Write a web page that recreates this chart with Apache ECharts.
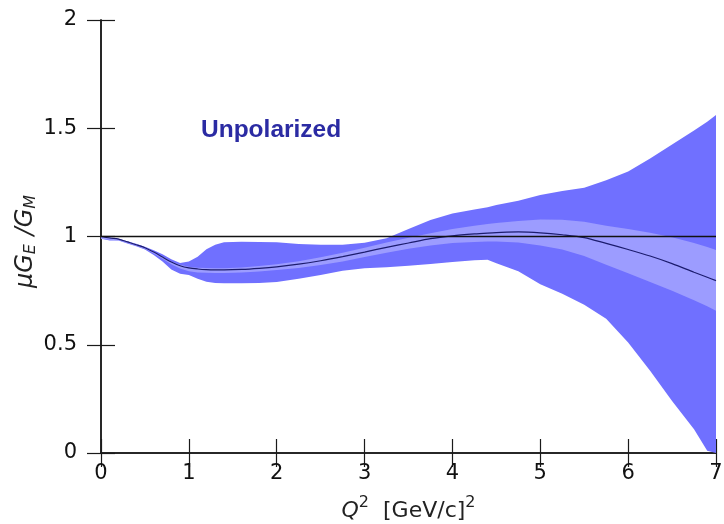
<!DOCTYPE html>
<html>
<head>
<meta charset="utf-8">
<script src="https://cdn.jsdelivr.net/npm/echarts@6/dist/echarts.min.js"></script>
<style>html,body{margin:0;padding:0;background:#fff}#c{width:724px;height:524px}</style>
</head>
<body>
<div id="c"></div>
<script>
// Q^2 sample points
var q2 = [0, 0.1, 0.2, 0.3, 0.4, 0.5, 0.6, 0.7, 0.8, 0.9, 1.0, 1.1, 1.2, 1.3, 1.4, 1.6, 1.8, 2.0, 2.25, 2.5, 2.75, 3.0, 3.25, 3.5, 3.75, 4.0, 4.25, 4.4, 4.5, 4.75, 5.0, 5.25, 5.5, 5.75, 6.0, 6.25, 6.5, 6.75, 6.9, 7.0];
// outer (wide) band
var outerUpper = [1.0, 0.995, 0.99, 0.978, 0.966, 0.953, 0.937, 0.918, 0.895, 0.878, 0.884, 0.906, 0.941, 0.962, 0.973, 0.976, 0.975, 0.973, 0.965, 0.962, 0.962, 0.971, 0.992, 1.035, 1.076, 1.106, 1.125, 1.135, 1.145, 1.165, 1.192, 1.21, 1.225, 1.26, 1.30, 1.36, 1.425, 1.49, 1.53, 1.561];
var outerLower = [0.99, 0.982, 0.982, 0.968, 0.955, 0.94, 0.915, 0.885, 0.848, 0.828, 0.822, 0.805, 0.791, 0.785, 0.784, 0.784, 0.785, 0.79, 0.805, 0.822, 0.842, 0.853, 0.858, 0.865, 0.873, 0.882, 0.89, 0.893, 0.877, 0.84, 0.78, 0.735, 0.685, 0.62, 0.51, 0.38, 0.24, 0.11, 0.01, 0.0];
// inner (narrow) band
var innerUpper = [1.0, 0.995, 0.99, 0.977, 0.964, 0.95, 0.93, 0.908, 0.885, 0.869, 0.86, 0.856, 0.854, 0.853, 0.853, 0.857, 0.864, 0.872, 0.886, 0.904, 0.925, 0.948, 0.972, 0.994, 1.015, 1.035, 1.05, 1.058, 1.062, 1.072, 1.078, 1.077, 1.068, 1.05, 1.035, 1.017, 0.997, 0.97, 0.952, 0.938];
var innerLower = [0.99, 0.985, 0.983, 0.97, 0.957, 0.943, 0.922, 0.897, 0.872, 0.852, 0.84, 0.834, 0.832, 0.831, 0.831, 0.834, 0.838, 0.845, 0.855, 0.868, 0.885, 0.905, 0.925, 0.943, 0.958, 0.97, 0.975, 0.977, 0.977, 0.972, 0.958, 0.94, 0.91, 0.87, 0.83, 0.79, 0.75, 0.705, 0.678, 0.657];
// central fit
var centralFit = [1.0, 0.993, 0.988, 0.975, 0.962, 0.948, 0.928, 0.905, 0.882, 0.865, 0.855, 0.85, 0.847, 0.846, 0.846, 0.848, 0.853, 0.86, 0.872, 0.888, 0.907, 0.928, 0.95, 0.97, 0.99, 1.003, 1.012, 1.016, 1.018, 1.021, 1.017, 1.008, 0.995, 0.968, 0.94, 0.91, 0.875, 0.835, 0.812, 0.796];
var unityLine = [[0, 1], [7, 1]];
var xTicks = [0, 1, 2, 3, 4, 5, 6, 7];
var yTicks = [0, 0.5, 1, 1.5, 2];

function bandSeries(upper, lower, color) {
  return {
    type: 'custom',
    silent: true,
    data: q2.map(function (x, i) { return [x, lower[i], upper[i]]; }),
    encode: { x: 0, y: [1, 2] },
    renderItem: function (params, api) {
      if (params.dataIndex !== 0) return null;
      var pts = [];
      for (var i = 0; i < q2.length; i++) pts.push(api.coord([q2[i], upper[i]]));
      for (var j = q2.length - 1; j >= 0; j--) pts.push(api.coord([q2[j], lower[j]]));
      return { type: 'polygon', shape: { points: pts }, style: { fill: color, stroke: null } };
    },
    z: 2
  };
}

var FONT = 'DejaVu Sans';
var chart = echarts.init(document.getElementById('c'), null, { renderer: 'canvas' });
var axisLineStyle = { color: '#1a1a1a', width: 1.5 };
chart.setOption({
  animation: false,
  backgroundColor: '#fff',
  grid: { left: 101, right: 8, top: 20, bottom: 71, containLabel: false, outerBoundsMode: 'none' },
  title: {
    text: 'Unpolarized', left: 196, top: 113,
    textStyle: { fontFamily: 'Liberation Sans', fontWeight: 'bold', fontSize: 24.5, color: '#2b2ba3' }
  },
  xAxis: [{
    type: 'value', min: 0, max: 7, interval: 1, position: 'bottom',
    axisLine: { show: true, lineStyle: axisLineStyle },
    axisTick: { show: true, inside: true, length: 14, lineStyle: { color: '#1a1a1a', width: 1.2 } },
    axisLabel: { margin: 10, fontFamily: FONT, fontSize: 21, color: '#111',
      formatter: function (v) { return xTicks.indexOf(v) >= 0 ? String(v) : ''; } },
    splitLine: { show: false },
    name: '{i|Q}{s|2}{t|  [GeV/c]}{s|2}', nameLocation: 'middle', nameGap: 42,
    nameTextStyle: { fontFamily: FONT, fontSize: 22, color: '#222',
      rich: {
        i: { fontFamily: FONT, fontSize: 22, fontStyle: 'italic', color: '#222', verticalAlign: 'bottom', lineHeight: 27 },
        t: { fontFamily: FONT, fontSize: 22, color: '#222', verticalAlign: 'bottom', lineHeight: 27 },
        s: { fontFamily: FONT, fontSize: 16, color: '#222', verticalAlign: 'top', lineHeight: 16 }
      } }
  }, {
    type: 'value', min: 0, max: 7, interval: 1, position: 'top',
    axisLine: { show: true, lineStyle: axisLineStyle },
    axisTick: { show: true, inside: true, length: 14, lineStyle: { color: '#1a1a1a', width: 1.2 } },
    axisLabel: { show: false }, splitLine: { show: false }
  }],
  yAxis: [{
    type: 'value', min: 0, max: 2, interval: 0.5, position: 'left',
    axisLine: { show: true, lineStyle: axisLineStyle },
    axisTick: { show: true, inside: true, length: 14, lineStyle: { color: '#1a1a1a', width: 1.2 } },
    axisLabel: { margin: 24, fontFamily: FONT, fontSize: 21, color: '#111',
      formatter: function (v) { return yTicks.indexOf(v) >= 0 ? String(v) : ''; } },
    splitLine: { show: false }
  }, {
    type: 'value', min: 0, max: 2, interval: 0.5, position: 'right',
    axisLine: { show: true, lineStyle: axisLineStyle },
    axisTick: { show: true, inside: true, length: 14, lineStyle: { color: '#1a1a1a', width: 1.2 } },
    axisLabel: { show: false }, splitLine: { show: false }
  }],
  graphic: [{
    type: 'text', x: 26, y: 241, rotation: Math.PI / 2,
    style: {
      text: '{a|μG}{s|E}{b| /G}{s|M}',
      align: 'center', verticalAlign: 'middle',
      rich: {
        a: { fontFamily: FONT, fontSize: 24, fontStyle: 'italic', fill: '#222', lineHeight: 34, verticalAlign: 'middle' },
        b: { fontFamily: FONT, fontSize: 24, fontStyle: 'italic', fill: '#222', lineHeight: 34, verticalAlign: 'middle' },
        s: { fontFamily: FONT, fontSize: 16, fontStyle: 'italic', fill: '#222', lineHeight: 16, verticalAlign: 'bottom', padding: [0, 1, 4, 0] }
      }
    }
  }],
  series: [
    bandSeries(outerUpper, outerLower, '#7070ff'),
    bandSeries(innerUpper, innerLower, '#9c9cff'),
    {
      type: 'line', data: q2.map(function (x, i) { return [x, centralFit[i]]; }),
      smooth: 0.3, symbol: 'none', lineStyle: { color: '#1c1c6e', width: 1.2 }, z: 3, silent: true
    },
    {
      type: 'line', data: unityLine, symbol: 'none',
      lineStyle: { color: '#111', width: 1.3 }, z: 4, silent: true
    }
  ]
});
</script>
</body>
</html>
